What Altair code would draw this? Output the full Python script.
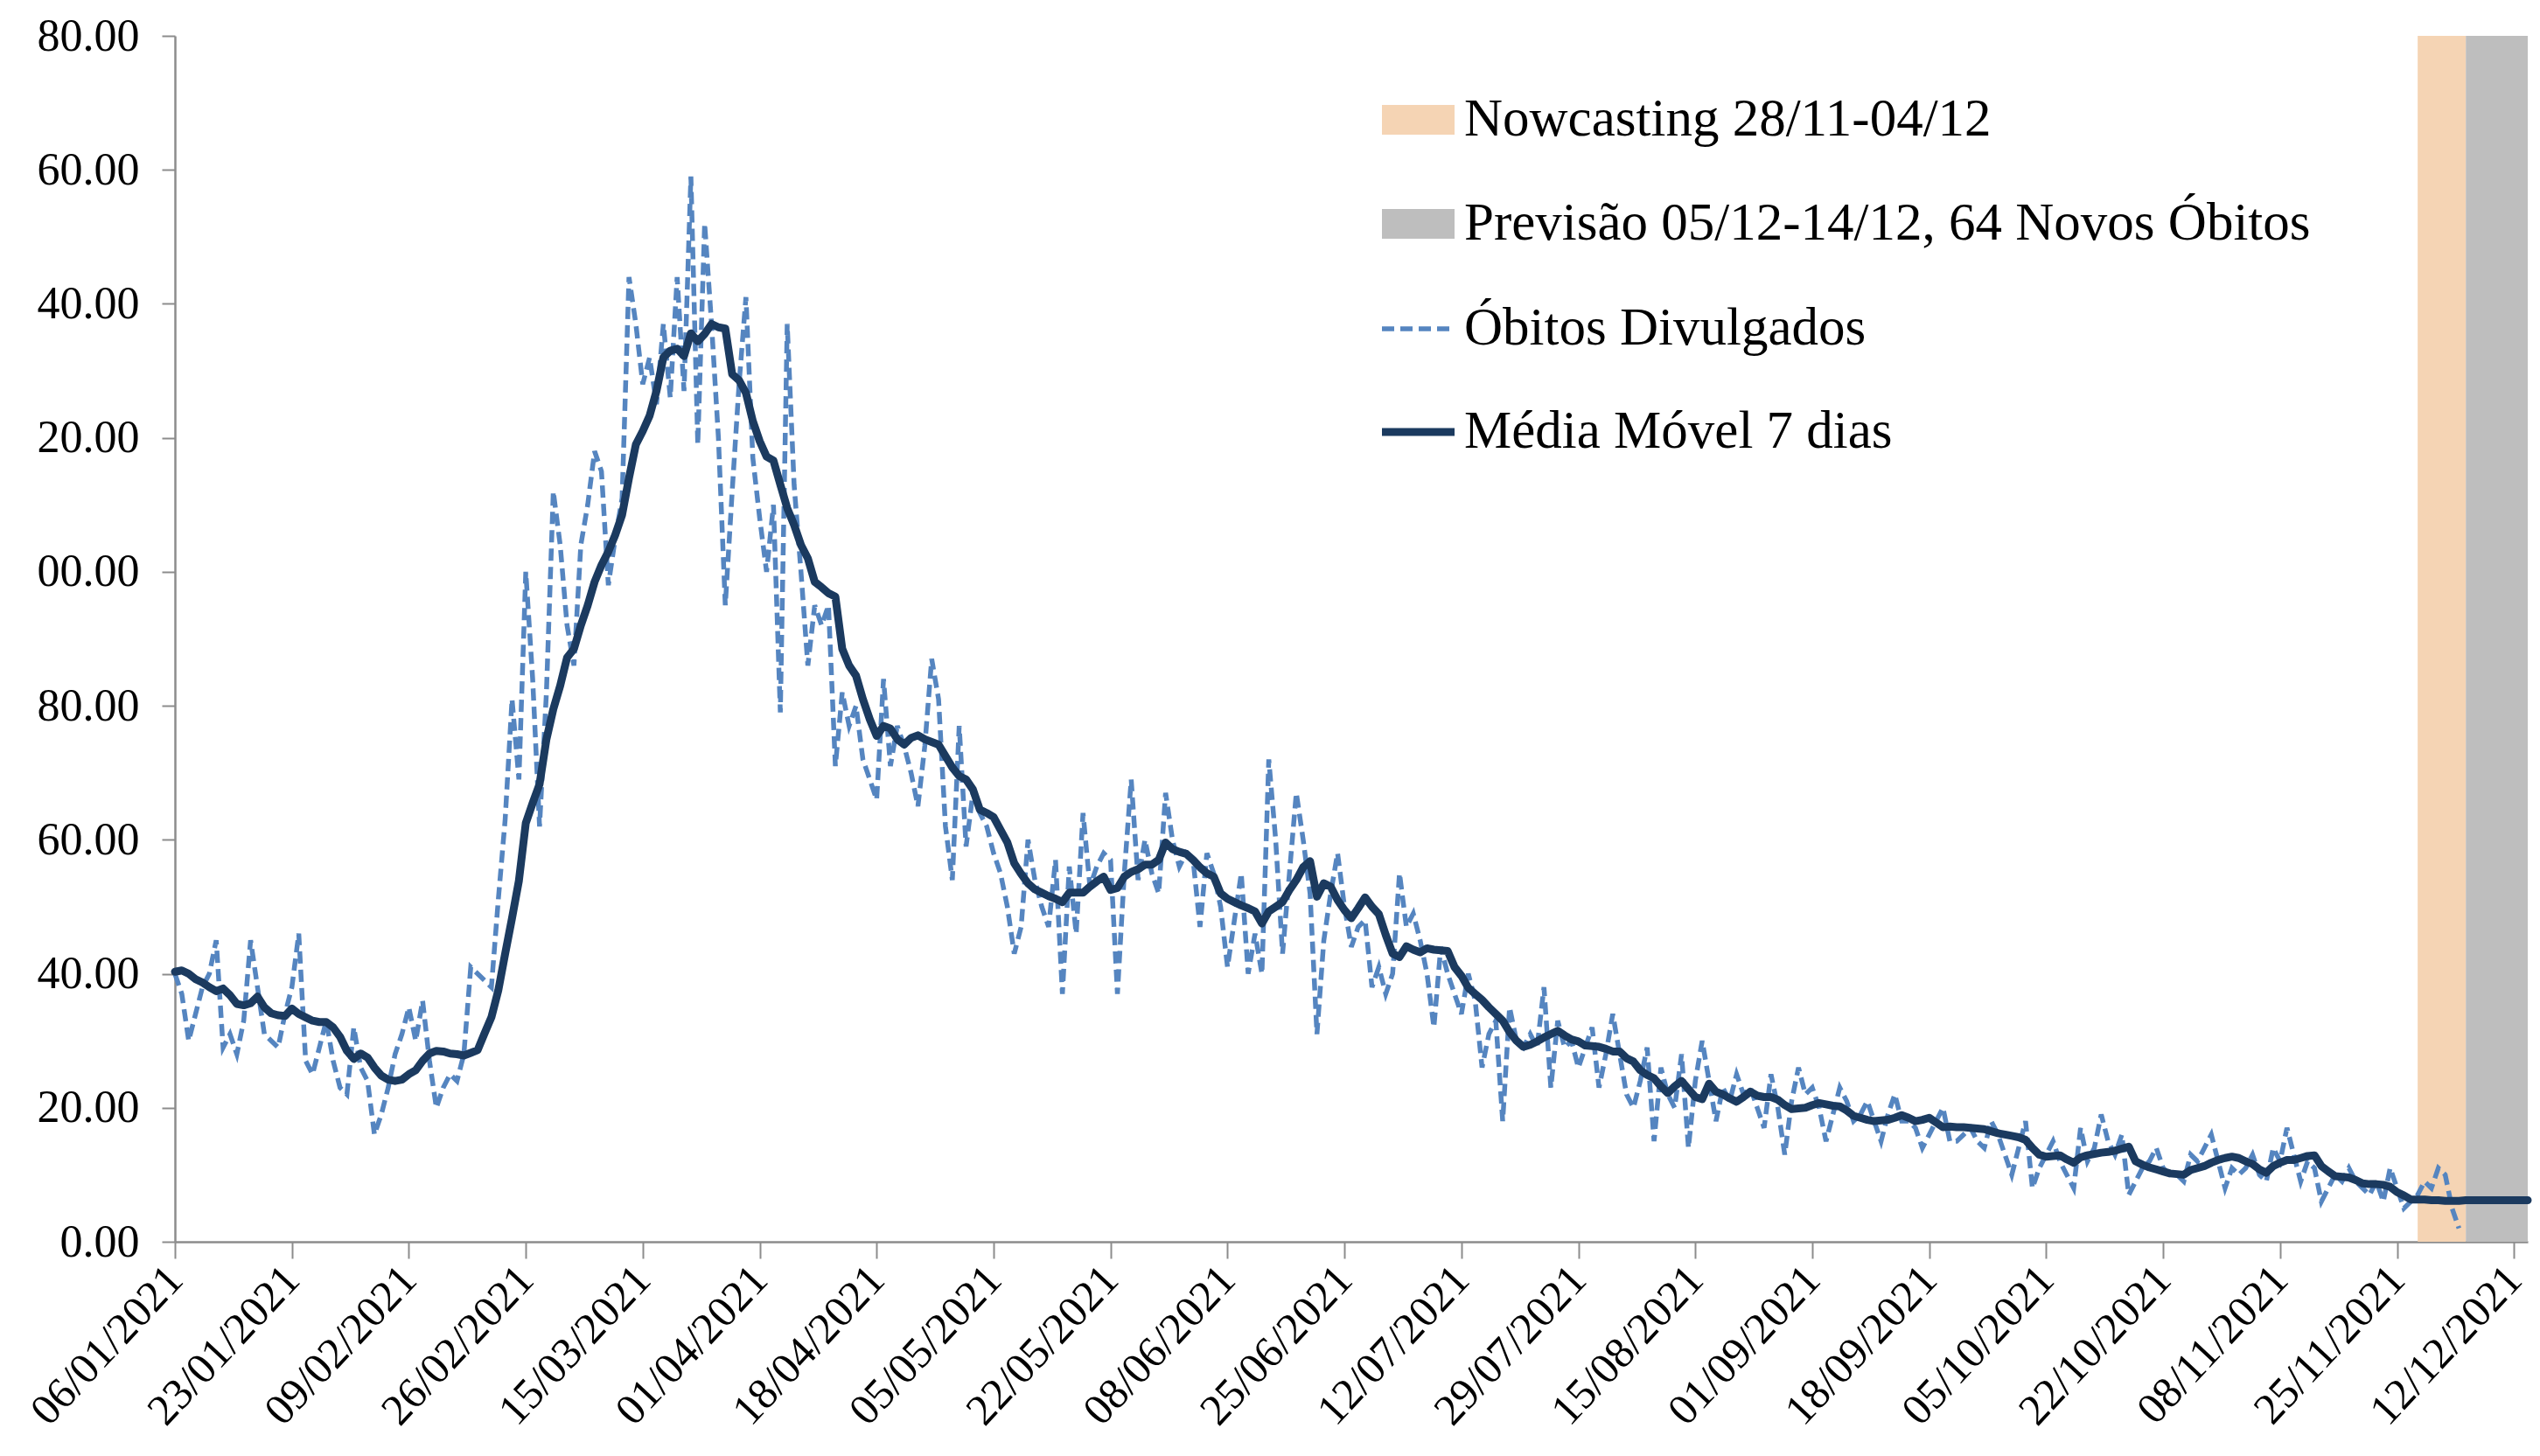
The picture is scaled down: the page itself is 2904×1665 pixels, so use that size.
import altair as alt
import pandas as pd

# ---------------- data ----------------
START_DATE = "2021-01-06"

# Óbitos divulgados (daily, 06/01/2021 .. 04/12/2021)
DAILY = [
    40, 37, 30, 34, 38, 40, 45,
    29, 31, 28, 33, 45, 38, 31,
    30, 29, 34, 38, 46, 27, 25,
    29, 33, 27, 23, 22, 32, 26,
    24, 16, 19, 23, 28, 31, 35,
    30, 36, 27, 20, 23, 25, 24,
    28, 41, 40, 39, 38, 51, 63,
    81, 69, 100, 84, 62, 82, 112,
    104, 92, 86, 104, 110, 118, 115,
    98, 105, 111, 144, 137, 128, 132,
    125, 137, 126, 144, 127, 159, 119,
    152, 137, 120, 95, 112, 128, 141,
    117, 108, 100, 110, 79, 137, 113,
    100, 86, 95, 92, 95, 71, 82,
    77, 80, 72, 69, 66, 84, 71,
    77, 74, 70, 65, 74, 87, 81,
    62, 54, 77, 59, 67, 64, 62,
    58, 55, 50, 43, 47, 60, 54,
    50, 47, 57, 37, 56, 46, 64,
    53, 56, 58, 57, 37, 55, 69,
    54, 60, 55, 52, 67, 60, 56,
    58, 57, 47, 58, 55, 50, 41,
    48, 55, 40, 46, 40, 72, 60,
    43, 55, 67, 60, 52, 31, 45,
    52, 58, 50, 44, 47, 48, 38,
    41, 37, 40, 55, 47, 49, 45,
    40, 32, 44, 40, 37, 34, 40,
    36, 26, 31, 33, 18, 35, 30,
    29, 31, 29, 38, 23, 33, 29,
    30, 26, 29, 32, 23, 28, 34,
    28, 22, 20, 24, 29, 15, 26,
    22, 20, 28, 14, 24, 30, 24,
    18, 23, 21, 25, 22, 23, 20,
    17, 25, 20, 13, 21, 26, 22,
    23, 20, 15, 19, 23, 21, 18,
    19, 21, 18, 15, 19, 22, 18,
    18, 17, 14, 16, 18, 20, 15,
    15, 16, 17, 15, 14, 18, 16,
    13, 10, 14, 18, 8, 11, 13,
    15, 12, 10, 8, 17, 12, 14,
    19, 15, 13, 16, 7, 9, 11,
    12, 14, 11, 10, 10, 9, 13,
    12, 14, 16, 12, 8, 11, 10,
    11, 13, 10, 9, 14, 12, 17,
    13, 9, 12, 11, 6, 8, 10,
    9, 11, 9, 8, 7, 9, 6,
    11, 8, 5, 6, 7, 9, 8,
    11, 10, 5, 2,
]

# Média móvel 7 dias (06/01/2021 .. 14/12/2021, flat forecast at the end)
MOVING_AVG = [
    40.3, 40.5, 40.0, 39.2, 38.7, 38.0, 37.4,
    37.8, 36.8, 35.5, 35.3, 35.6, 36.6, 35.0,
    34.1, 33.8, 33.7, 34.8, 34.0, 33.5, 33.0,
    32.8, 32.8, 32.0, 30.6, 28.5, 27.3, 28.1,
    27.5, 26.0, 24.8, 24.2, 24.0, 24.2, 25.0,
    25.6, 27.0, 28.1, 28.5, 28.4, 28.1, 28.0,
    27.8, 28.2, 28.6, 31.1, 33.5, 37.5, 43.0,
    48.3, 53.9, 62.5, 65.5, 68.3, 75.0, 79.5,
    83.0, 87.2, 88.5, 92.0, 95.0, 98.5, 101.0,
    103.0, 105.5, 108.5, 114.0, 119.0, 121.0, 123.3,
    127.0, 132.0, 133.0, 133.3, 132.2, 135.6, 134.4,
    135.5, 137.0, 136.5, 136.3, 129.5, 128.6, 126.7,
    122.5, 119.5, 117.2, 116.6, 113.0, 109.5, 107.0,
    104.0, 102.0, 98.5, 97.7, 96.8, 96.3, 88.5,
    86.0, 84.5, 81.0, 78.0, 75.5, 77.0, 76.6,
    75.0, 74.2, 75.2, 75.6, 75.0, 74.6, 74.2,
    72.5, 70.8, 69.5, 69.0, 67.5, 64.5, 64.0,
    63.4, 61.5, 59.6, 56.5, 54.9, 53.5, 52.6,
    52.1, 51.6, 51.2, 50.7, 52.1, 52.1, 52.1,
    53.0, 53.8, 54.5, 52.5, 52.8, 54.5, 55.2,
    55.6, 56.3, 56.3, 57.0, 59.6, 58.6, 58.2,
    57.9, 57.0, 55.9, 55.0, 54.5, 52.0, 51.2,
    50.7, 50.2, 49.8, 49.3, 47.5, 49.3, 50.0,
    50.7, 52.5, 54.0, 55.9, 56.8, 51.5, 53.5,
    53.0, 51.0, 49.5, 48.3, 49.8, 51.4, 50.0,
    48.9, 45.8, 43.0, 42.5, 44.1, 43.6, 43.2,
    43.8, 43.6, 43.5, 43.4, 41.0, 39.7, 37.9,
    37.0, 36.1, 35.0, 34.0, 33.0, 31.3, 30.0,
    29.1, 29.4, 29.9, 30.5, 31.0, 31.5, 30.8,
    30.2, 29.9, 29.3, 29.2, 29.1, 28.8, 28.4,
    28.4, 27.4, 26.9, 25.6, 24.9, 24.4, 23.2,
    22.2, 23.2, 24.0, 22.8, 21.6, 21.3, 23.6,
    22.4, 22.0, 21.4, 20.9, 21.6, 22.4, 21.8,
    21.6, 21.6, 21.2, 20.4, 19.8, 19.9, 20.0,
    20.4, 20.7, 20.5, 20.3, 20.2, 19.6, 18.8,
    18.5, 18.2, 18.0, 18.1, 18.2, 18.5, 18.9,
    18.5, 18.0, 18.2, 18.5, 17.8, 17.1, 17.2,
    17.1, 17.1, 17.0, 16.9, 16.8, 16.5, 16.2,
    16.0, 15.8, 15.6, 15.2, 14.0, 13.0, 12.7,
    12.8, 12.9, 12.3, 11.8, 12.6, 12.9, 13.1,
    13.3, 13.4, 13.6, 13.9, 14.2, 12.0, 11.5,
    11.1, 10.8, 10.5, 10.2, 10.1, 10.0, 10.7,
    11.0, 11.3, 11.8, 12.2, 12.5, 12.7, 12.5,
    12.0, 11.6, 10.8, 10.3, 11.3, 11.8, 12.2,
    12.2, 12.5, 12.8, 12.9, 11.3, 10.5, 9.8,
    9.7, 9.6, 9.2, 8.7, 8.6, 8.6, 8.5,
    8.2, 7.4, 6.9, 6.3, 6.3, 6.3, 6.2,
    6.2, 6.1, 6.1, 6.1, 6.2, 6.2, 6.2,
    6.2, 6.2, 6.2, 6.2, 6.2, 6.2, 6.2,
]

TICK_DATES = [
    "2021-01-06", "2021-01-23", "2021-02-09", "2021-02-26", "2021-03-15",
    "2021-04-01", "2021-04-18", "2021-05-05", "2021-05-22", "2021-06-08",
    "2021-06-25", "2021-07-12", "2021-07-29", "2021-08-15", "2021-09-01",
    "2021-09-18", "2021-10-05", "2021-10-22", "2021-11-08", "2021-11-25",
    "2021-12-12",
]
X_DOMAIN = ["2021-01-06", "2021-12-14"]
Y_TICKS = [0, 20, 40, 60, 80, 100, 120, 140, 160, 180]

BAND_NAMES = ["Nowcasting", "Previsão"]
BAND_START = ["2021-11-28", "2021-12-05"]
BAND_END = ["2021-12-05", "2021-12-14"]

LEGEND_LABELS = [
    "Nowcasting 28/11-04/12",
    "Previsão 05/12-14/12,  64 Novos Óbitos",
    "Óbitos Divulgados",
    "Média Móvel 7 dias",
]

# ---------------- styling ----------------
FONT = "Liberation Serif"
C_NOW = "#F5D4B4"
C_PREV = "#BEBEBE"
C_DAILY = "#5585C0"
C_MA = "#1B3A5F"
AXIS_GREY = "#8C8C8C"

W, H = 2690, 1379


def to_dt(s):
    t = pd.Timestamp(s)
    return alt.DateTime(year=t.year, month=t.month, date=t.day)


daily_df = pd.DataFrame({
    "date": pd.date_range(START_DATE, periods=len(DAILY), freq="D"),
    "value": DAILY,
})
ma_df = pd.DataFrame({
    "date": pd.date_range(START_DATE, periods=len(MOVING_AVG), freq="D"),
    "value": MOVING_AVG,
})
band_df = pd.DataFrame({
    "band": BAND_NAMES,
    "start": pd.to_datetime(BAND_START),
    "end": pd.to_datetime(BAND_END),
})

x_scale = alt.Scale(domain=[to_dt(d) for d in X_DOMAIN])
y_scale = alt.Scale(domain=[0, 180], nice=False, zero=True)

x_axis = alt.Axis(
    values=[to_dt(d) for d in TICK_DATES],
    format="%d/%m/%Y",
    labelAngle=-47,
    labelAlign="right",
    labelBaseline="middle",
    labelFont=FONT,
    labelFontSize=50,
    labelColor="#000000",
    labelPadding=16,
    labelLimit=0,
    labelOverlap=False,
    labelBound=False,
    labelFlush=False,
    tickSize=19,
    tickWidth=2,
    tickColor=AXIS_GREY,
    domainColor=AXIS_GREY,
    domainWidth=2.5,
    grid=False,
    title=None,
)
y_axis = alt.Axis(
    values=Y_TICKS,
    labelExpr="slice(format(datum.value, '.2f'), -5)",
    labelFont=FONT,
    labelFontSize=52,
    labelColor="#000000",
    labelPadding=26,
    labelLimit=0,
    labelFlush=False,
    tickSize=15,
    tickWidth=2,
    tickColor=AXIS_GREY,
    domainColor=AXIS_GREY,
    domainWidth=2.5,
    grid=False,
    title=None,
)

bands = alt.Chart(band_df).mark_rect().encode(
    x=alt.X("start:T", scale=x_scale, axis=x_axis),
    x2="end:T",
    y=alt.datum(0, scale=y_scale),
    y2=alt.datum(180),
    color=alt.Color("band:N", scale=alt.Scale(domain=BAND_NAMES, range=[C_NOW, C_PREV]), legend=None),
)

daily_line = alt.Chart(daily_df).mark_line(
    color=C_DAILY, strokeWidth=5.5, strokeDash=[14, 7]
).encode(
    x=alt.X("date:T", scale=x_scale, axis=x_axis),
    y=alt.Y("value:Q", scale=y_scale, axis=y_axis),
)

ma_line = alt.Chart(ma_df).mark_line(
    color=C_MA, strokeWidth=9, strokeJoin="round", strokeCap="round"
).encode(
    x=alt.X("date:T", scale=x_scale, axis=x_axis),
    y=alt.Y("value:Q", scale=y_scale, axis=y_axis),
)

# ---------------- manual legend ----------------
LEG_X0, LEG_X1, LEG_TX = 1380, 1463, 1474
LEG_Y = [96, 215, 335, 453]


def one_row(label):
    return pd.DataFrame({"label": [label]})


legend_layers = []
for i, col in enumerate([C_NOW, C_PREV]):
    legend_layers.append(
        alt.Chart(one_row(LEGEND_LABELS[i])).mark_rect(color=col).encode(
            x=alt.value(LEG_X0), x2=alt.value(LEG_X1),
            y=alt.value(LEG_Y[i] - 17), y2=alt.value(LEG_Y[i] + 17),
        )
    )
legend_layers.append(
    alt.Chart(one_row(LEGEND_LABELS[2])).mark_rule(
        color=C_DAILY, strokeWidth=5.5, strokeDash=[14, 7]
    ).encode(x=alt.value(LEG_X0), x2=alt.value(LEG_X1 - 4), y=alt.value(LEG_Y[2]))
)
legend_layers.append(
    alt.Chart(one_row(LEGEND_LABELS[3])).mark_rule(
        color=C_MA, strokeWidth=9
    ).encode(x=alt.value(LEG_X0), x2=alt.value(LEG_X1), y=alt.value(LEG_Y[3]))
)
for i, lab in enumerate(LEGEND_LABELS):
    legend_layers.append(
        alt.Chart(one_row(lab)).mark_text(
            align="left", baseline="middle", font=FONT, fontSize=61, color="#000000"
        ).encode(text="label:N", x=alt.value(LEG_TX), y=alt.value(LEG_Y[i]))
    )

chart = alt.layer(bands, daily_line, ma_line, *legend_layers).properties(
    width=W,
    height=H,
    autosize=alt.AutoSizeParams(type="none"),
    padding={"left": 192, "top": 33, "right": 6, "bottom": 235},
    background="#FFFFFF",
).configure_view(strokeWidth=0)

chart.save("out.html", embed_options={"renderer": "svg", "actions": False})
